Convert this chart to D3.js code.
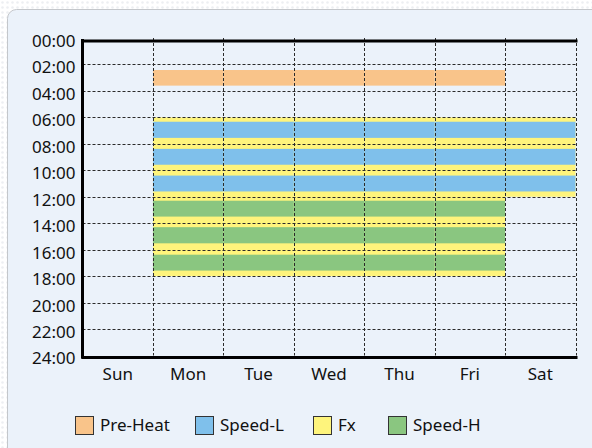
<!DOCTYPE html>
<html>
<head>
<meta charset="utf-8">
<script src="https://cdn.jsdelivr.net/npm/d3@7"></script>
<style>
  html, body { margin: 0; padding: 0; background: #fff; }
  svg { display: block; }
  .tick text { fill: #111; }
</style>
</head>
<body>
<svg id="chart" width="592" height="448"></svg>
<script>
// data
const days = ['Sun', 'Mon', 'Tue', 'Wed', 'Thu', 'Fri', 'Sat']
const hourTicks = [0, 2, 4, 6, 8, 10, 12, 14, 16, 18, 20, 22, 24]
const modes = ['Pre-Heat', 'Speed-L', 'Fx', 'Speed-H']
const modeColors = ['#F9C48A', '#7FC0EB', '#FEF47C', '#8AC680']

// [start hour, end hour]
const preHeatDays = ['Mon', 'Tue', 'Wed', 'Thu', 'Fri']
const preHeatSlots = [[2.42, 3.6]]
const fxDays = ['Mon', 'Tue', 'Wed', 'Thu', 'Fri']
const fxSlots = [[6, 18]]
const fxSatSlots = [[6, 12]]
const speedLDays = ['Mon', 'Tue', 'Wed', 'Thu', 'Fri', 'Sat']
const speedLSlots = [[6.33, 7.55], [8.38, 9.58], [10.4, 11.6]]
const speedHDays = ['Mon', 'Tue', 'Wed', 'Thu', 'Fri']
const speedHSlots = [[12.3, 13.5], [14.3, 15.52], [16.38, 17.58]]

const blocks = []
const addBlocks = (mode, dayList, slots) => {
  dayList.forEach(day => slots.forEach(s => blocks.push({ mode, day, start: s[0], end: s[1] })))
}
addBlocks('Pre-Heat', preHeatDays, preHeatSlots)
addBlocks('Fx', fxDays, fxSlots)
addBlocks('Fx', ['Sat'], fxSatSlots)
addBlocks('Speed-L', speedLDays, speedLSlots)
addBlocks('Speed-H', speedHDays, speedHSlots)

const svg = d3.select('#chart')
const font = '"Noto Sans", "Open Sans", sans-serif'

// page background dots
const pat = svg.append('defs').append('pattern')
  .attr('id', 'dots')
  .attr('width', 5).attr('height', 5)
  .attr('patternUnits', 'userSpaceOnUse')
pat.append('circle').attr('cx', 2.5).attr('cy', 2.5).attr('r', 1.3).attr('fill', '#EDEFF2')
svg.append('rect').attr('width', 592).attr('height', 448).attr('fill', 'url(#dots)')

// panel
svg.append('rect')
  .attr('x', 7.5).attr('y', 9.5)
  .attr('width', 620).attr('height', 480)
  .attr('rx', 9)
  .attr('fill', '#EBF2FA')
  .attr('stroke', '#C4C7CB')

const x = d3.scaleBand().domain(days).range([82.5, 575.5])
const y = d3.scaleLinear().domain([0, 24]).range([38, 355.5])
const color = d3.scaleOrdinal().domain(modes).range(modeColors)

// bars
svg.append('g')
  .selectAll('rect')
  .data(blocks)
  .join('rect')
  .attr('x', d => x(d.day))
  .attr('width', x.bandwidth())
  .attr('y', d => y(d.start))
  .attr('height', d => y(d.end) - y(d.start))
  .attr('fill', d => color(d.mode))

// grid
const grid = svg.append('g')
  .attr('stroke', '#2a2a2a')
  .attr('stroke-width', 1)
  .attr('stroke-dasharray', '3,2')

grid.selectAll('line.h')
  .data(hourTicks.slice(1, -1))
  .join('line')
  .attr('class', 'h')
  .attr('x1', x.range()[0]).attr('x2', x.range()[1])
  .attr('y1', d => Math.round(y(d)) + 0.5)
  .attr('y2', d => Math.round(y(d)) + 0.5)

grid.selectAll('line.v')
  .data(days.slice(1).map(d => x(d)).concat([x.range()[1]]))
  .join('line')
  .attr('class', 'v')
  .attr('x1', d => Math.round(d) + 0.5).attr('x2', d => Math.round(d) + 0.5)
  .attr('y1', y(0)).attr('y2', y(24))

// axes
const yAxis = svg.append('g')
  .attr('transform', `translate(${x.range()[0]},0)`)
  .call(d3.axisLeft(y)
    .tickValues(hourTicks)
    .tickFormat(h => String(h).padStart(2, '0') + ':00')
    .tickSize(0)
    .tickPadding(7))
yAxis.selectAll('text')
  .attr('font-family', font).attr('font-size', 17)
  .attr('transform', 'translate(0,3)')

const xAxis = svg.append('g')
  .attr('transform', `translate(0,${y(24) + 1.5})`)
  .call(d3.axisBottom(x).tickSize(0).tickPadding(11))
xAxis.selectAll('text').attr('font-family', font).attr('font-size', 17)

const topAxis = svg.append('g')
  .attr('transform', `translate(0,${y(0) + 2.5})`)
  .call(d3.axisTop(x).tickSize(0).tickFormat(''))

svg.selectAll('.domain')
  .attr('stroke', '#000')
  .attr('stroke-width', 3)
  .attr('stroke-linecap', 'square')
yAxis.select('.domain').attr('d', `M0,${y(0) + 2.5}V${y(24) + 1.5}`)

// legend
const legendX = [75, 195, 313, 388]
const legend = svg.append('g')
  .selectAll('g')
  .data(modes)
  .join('g')
  .attr('transform', (d, i) => `translate(${legendX[i]},416)`)

legend.append('rect')
  .attr('x', 0.5).attr('y', 0.5)
  .attr('width', 18).attr('height', 18)
  .attr('fill', d => color(d))
  .attr('stroke', '#333')

legend.append('text')
  .attr('x', 25).attr('y', 15)
  .attr('font-family', font)
  .attr('font-size', 17)
  .attr('fill', '#111')
  .text(d => d)
</script>
</body>
</html>
